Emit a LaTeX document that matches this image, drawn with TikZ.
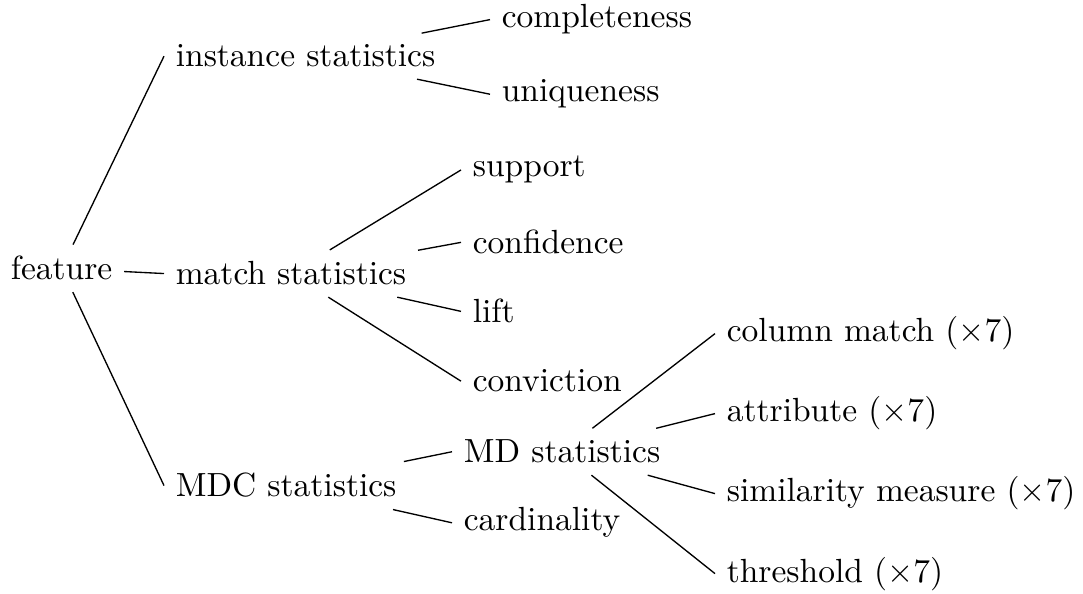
\documentclass[tikz,border=0pt]{standalone}
\begin{document}
\begin{tikzpicture}[x=0.2985pt,y=-0.2985pt,
  lbl/.style={anchor=base west, inner sep=3.33pt},
  link/.style={draw=black, line width=0.4pt}]
\useasboundingbox (0,0) rectangle (1083,594);

% root
\node[lbl] (feat) at (-1,280) {feature};

% first level
\node[lbl] (inst) at (164,67)  {instance statistics};
\node[lbl] (match) at (164,285) {match statistics};
\node[lbl] (mdc) at (164,497) {MDC statistics};

% second level
\node[lbl] (compl) at (490,28)  {completeness};
\node[lbl] (uniq)  at (490,102) {uniqueness};
\node[lbl] (supp)  at (461,177) {support};
\node[lbl] (conf)  at (461,254) {confidence};
\node[lbl] (lift)  at (461,323) {lift};
\node[lbl] (conv)  at (461,392) {conviction};
\node[lbl] (md)    at (452,463) {MD statistics};
\node[lbl] (card)  at (452,531) {cardinality};

% third level
\node[lbl] (col)  at (715,342) {column match ($\times7$)};
\node[lbl] (attr) at (715,422) {attribute ($\times7$)};
\node[lbl] (sim)  at (715,502) {similarity measure ($\times7$)};
\node[lbl] (thr)  at (715,582) {threshold ($\times7$)};

% edges
\foreach \p/\c in {feat/inst, feat/match, feat/mdc,
                   inst/compl, inst/uniq,
                   match/supp, match/conf, match/lift, match/conv,
                   mdc/md, mdc/card,
                   md/col, md/attr, md/sim, md/thr}
  \draw[link] (\p) -- (\c.west);
\end{tikzpicture}
\end{document}
